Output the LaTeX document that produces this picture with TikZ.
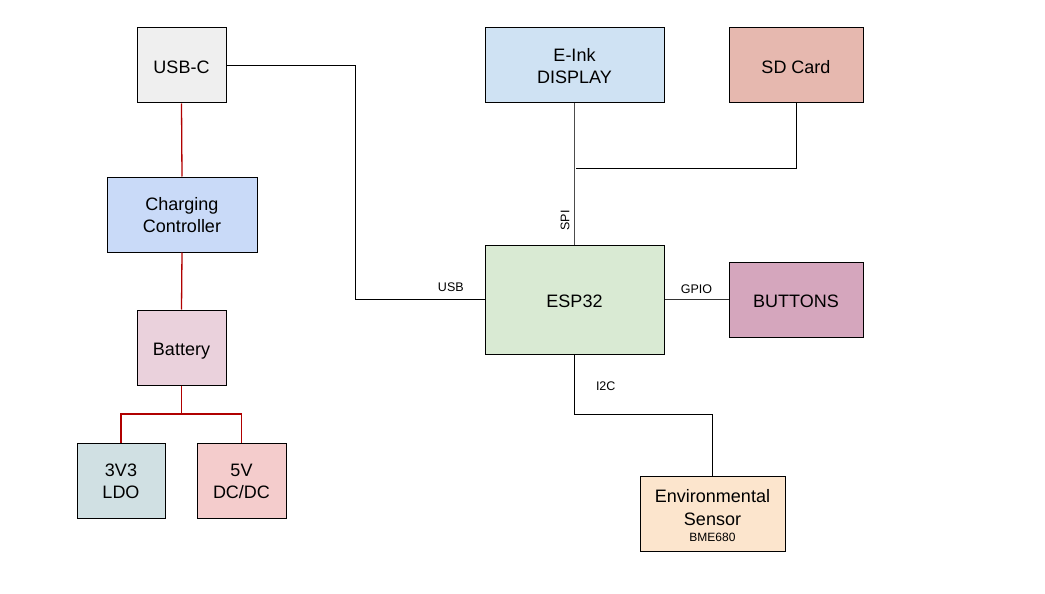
\documentclass[tikz,border=0pt]{standalone}
\usepackage{fontspec}
\setmainfont{Liberation Sans}
\usetikzlibrary{positioning, calc}

\definecolor{usbfill}{HTML}{EFEFEF}
\definecolor{chgfill}{HTML}{C9DAF8}
\definecolor{batfill}{HTML}{EAD1DC}
\definecolor{ldofill}{HTML}{D0E0E3}
\definecolor{dcfill}{HTML}{F4CCCC}
\definecolor{inkfill}{HTML}{CFE2F3}
\definecolor{sdfill}{HTML}{E6B8AF}
\definecolor{espfill}{HTML}{D9EAD3}
\definecolor{btnfill}{HTML}{D5A6BD}
\definecolor{envfill}{HTML}{FCE5CD}
\definecolor{powerred}{HTML}{B00000}

\begin{document}
\begin{tikzpicture}[
  x=1pt, y=-1pt,
  every node/.style={font=\fontsize{18}{22}\selectfont},
  block/.style={draw, line width=1pt, align=center, inner sep=0pt,
    text height=19.5pt, text depth=4pt},
  twoline/.style={text height=40.6pt},
  power/.style={draw=powerred, line width=1.3pt},
  bus/.style={draw, line width=1pt},
  buslabel/.style={font=\fontsize{12.5}{14}\selectfont, inner sep=2pt}
]
\useasboundingbox (0,0) rectangle (1045,594);

% Power side
\node[block, fill=usbfill, minimum width=89pt, minimum height=75pt] (usbc) at (181.5, 65.5) {USB-C};
\node[block, twoline, fill=chgfill, minimum width=150pt, minimum height=75pt] (chg) at (182, 214.5) {Charging\\Controller};
\node[block, fill=batfill, minimum width=89pt, minimum height=75pt] (batt) at (181.5, 347.5) {Battery};
\node[block, twoline, fill=ldofill, minimum width=88pt, minimum height=75pt] (ldo) at (121, 480.5) {3V3\\LDO};
\node[block, twoline, fill=dcfill, minimum width=89pt, minimum height=75pt] (dcdc) at (241.5, 480.5) {5V\\DC/DC};

% Logic side
\node[block, twoline, fill=inkfill, minimum width=179pt, minimum height=75pt] (eink) at (574.5, 65.5) {E-Ink\\DISPLAY};
\node[block, fill=sdfill, minimum width=134pt, minimum height=75pt] (sd) at (796, 65.5) {SD Card};
\node[block, fill=espfill, minimum width=179pt, minimum height=109pt] (esp) at (574.5, 299.5) {ESP32};
\node[block, fill=btnfill, minimum width=134pt, minimum height=75pt] (btn) at (796, 299.5) {BUTTONS};
\node[block, text height=59pt, fill=envfill, minimum width=145pt, minimum height=75pt] (env) at (712.5, 513.5)
  {Environmental\\[1pt]Sensor\\[-6.3pt]{\fontsize{12}{14}\selectfont BME680}};

% Power rails
\draw[power] (usbc.south) -- (chg.north);
\draw[power] (chg.south) -- (batt.north);
\draw[power] (batt.south) -- ++(0,28.5) coordinate (split);
\draw[power] (split) -| (ldo.north);
\draw[power] (split) -| (dcdc.north);

% Data buses
\draw[bus] (usbc.east) -- (355,65.5) |- node[buslabel, pos=0.87, above=5pt]{USB} (esp.west);
\draw[bus, draw=black!70] (eink.south) -- node[buslabel, pos=0.83, rotate=90, anchor=south, inner sep=4.5pt]{SPI} (esp.north);
\coordinate (spijoin) at (576,168);
\draw[bus] (sd.south) |- (spijoin);
\draw[bus, draw=black!80] (esp.east) -- node[buslabel, midway, above=3pt]{GPIO} (btn.west);
\draw[bus] (esp.south) -- ++(0,60) node[buslabel, pos=0.53, right=19pt]{I2C} -| (env.north);

\end{tikzpicture}
\end{document}
